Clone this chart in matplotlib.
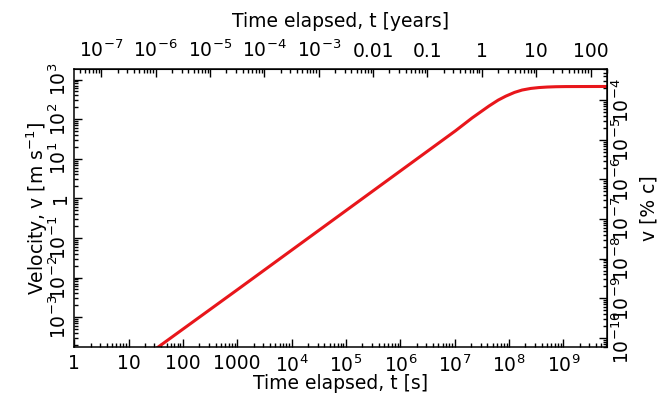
import math
import matplotlib
matplotlib.use("Agg")
import matplotlib.pyplot as plt
from matplotlib.ticker import FuncFormatter, LogLocator, NullFormatter

plt.rcParams['font.family'] = ['DejaVu Sans']
plt.rcParams['mathtext.fontset'] = 'dejavusans'

# velocity curve (t in s, v in m/s)
t_s = [35, 1e3, 1e5, 1.04e7, 2.09e7, 4.27e7, 6.31e7, 8.71e7, 1.26e8, 1.74e8,
       2.51e8, 3.55e8, 5.01e8, 7.24e8, 1.1e9, 6.4e9]
v_ms = [1.75e-4, 4.9e-3, 0.49, 51, 107, 214, 302, 380, 473, 543,
        596, 627, 646, 658, 664, 668]

year = 3.156e7      # s
c_light = 2.998e8   # m/s

x_ticks = [1, 10, 100, 1000, 1e4, 1e5, 1e6, 1e7, 1e8, 1e9]
yr_ticks = [1e-7, 1e-6, 1e-5, 1e-4, 1e-3, 0.01, 0.1, 1, 10, 100]
v_ticks = [1e-3, 1e-2, 1e-1, 1, 10, 100, 1000]
pc_ticks = [1e-10, 1e-9, 1e-8, 1e-7, 1e-6, 1e-5, 1e-4]

FS = 13.5


def fmt_s(x, pos):
    e = int(round(math.log10(x)))
    if e <= 3:
        return "%d" % round(x)
    return r"$\mathregular{10^{%d}}$" % e


def fmt_yr(x, pos):
    e = int(round(math.log10(x)))
    if -2 <= e <= 2:
        return "%g" % x
    return r"$\mathregular{10^{%d}}$" % e


def fmt_pow(x, pos):
    e = int(round(math.log10(x)))
    if e == 0:
        return "1"
    return r"$\mathregular{10^{%d}}$" % e


def style_ticks(a, axis):
    a.tick_params(which='both', direction='in', labelsize=FS, width=1)
    a.tick_params(which='major', length=6)
    a.tick_params(which='minor', length=3)
    getattr(a, axis + 'axis').set_minor_locator(
        LogLocator(base=10, subs=range(2, 10), numticks=100))
    getattr(a, axis + 'axis').set_minor_formatter(NullFormatter())


fig = plt.figure(figsize=(6.68, 3.94), dpi=100)
ax = fig.add_axes([0.111, 0.119, 0.798, 0.706])

ax.plot(t_s, v_ms, color='#e8161b', lw=2.2)
ax.set_xscale('log')
ax.set_yscale('log')
ax.set_xlim(1, 6.4e9)
ax.set_ylim(1.75e-4, 1.85e3)

for s in ax.spines.values():
    s.set_linewidth(1.1)

ax.set_xticks(x_ticks)
ax.xaxis.set_major_formatter(FuncFormatter(fmt_s))
ax.set_yticks(v_ticks)
ax.yaxis.set_major_formatter(FuncFormatter(fmt_pow))
style_ticks(ax, 'x')
style_ticks(ax, 'y')
ax.tick_params(axis='x', pad=5)
ax.tick_params(axis='y', labelrotation=90, pad=3)
for lab in ax.get_yticklabels():
    lab.set_va('center')

ax.set_xlabel("Time elapsed, t [s]", fontsize=FS, labelpad=-1)
ax.set_ylabel(r"Velocity, v [m s$\mathregular{^{-1}}$]", fontsize=FS, labelpad=-1)

top = ax.secondary_xaxis('top', functions=(lambda t: t / year, lambda y: y * year))
top.set_xticks(yr_ticks)
top.xaxis.set_major_formatter(FuncFormatter(fmt_yr))
style_ticks(top, 'x')
top.tick_params(axis='x', pad=6)
top.set_xlabel("Time elapsed, t [years]", fontsize=FS, labelpad=9)

right = ax.secondary_yaxis('right', functions=(lambda v: v / c_light * 100,
                                               lambda p: p * c_light / 100))
right.set_yticks(pc_ticks)
right.yaxis.set_major_formatter(FuncFormatter(fmt_pow))
style_ticks(right, 'y')
right.tick_params(axis='y', labelrotation=90, pad=3)
for lab in right.get_yticklabels():
    lab.set_va('center')
right.set_ylabel("v [% c]", fontsize=FS, rotation=90, va='top', labelpad=5)

fig.savefig("out.png", dpi=100)
